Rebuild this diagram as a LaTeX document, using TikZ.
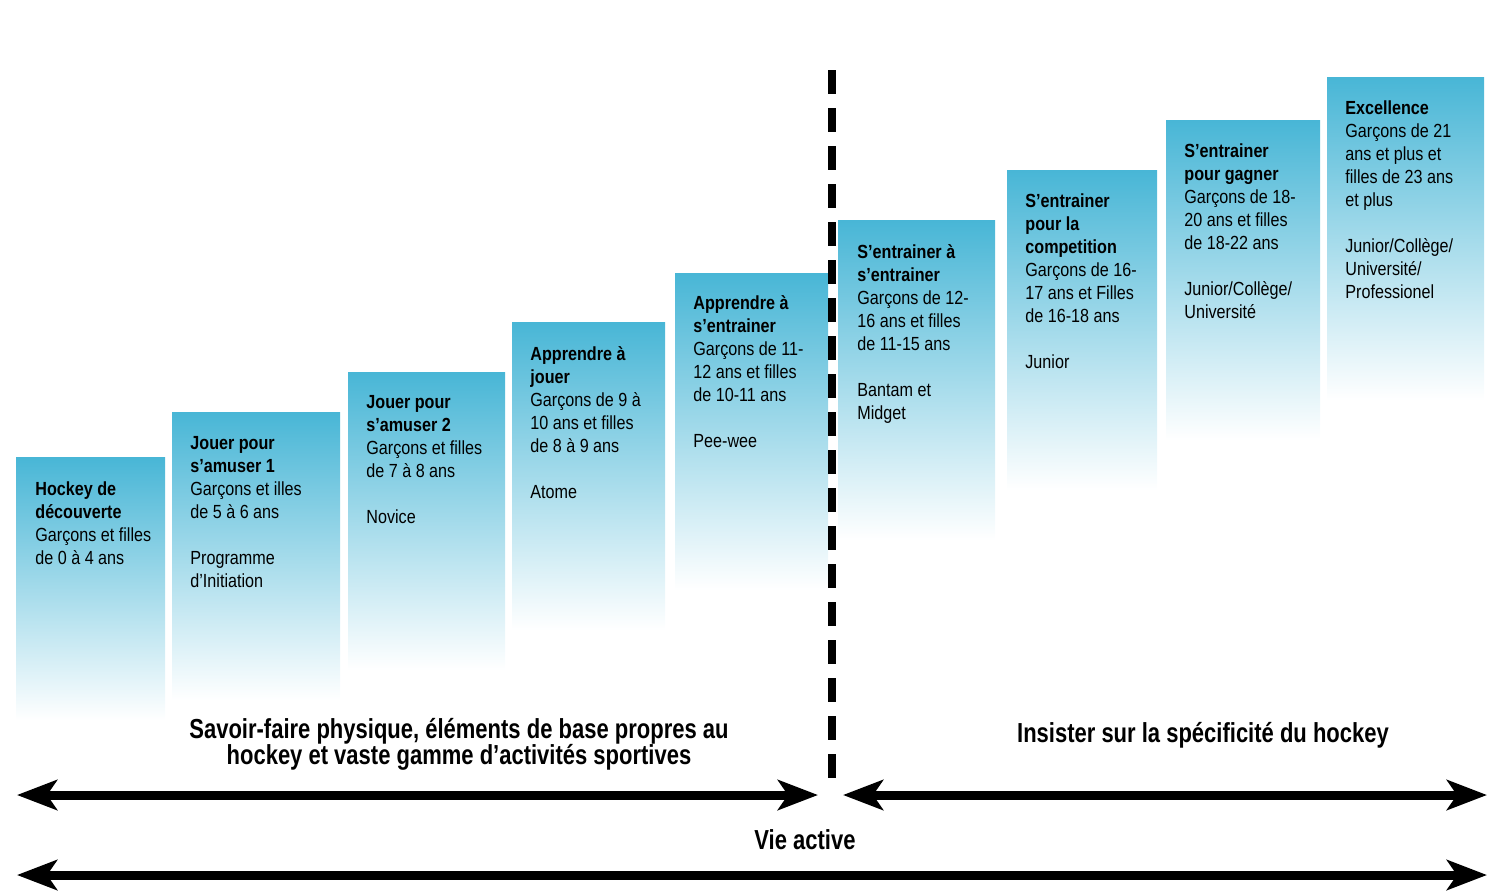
\documentclass[tikz,border=0pt]{standalone}
\usepackage{fontspec}
\setmainfont{Liberation Sans}[FakeStretch=0.85]
\newfontfamily\bandfont{Liberation Sans}[FakeStretch=0.8]
\usetikzlibrary{arrows.meta}
\usetikzlibrary{positioning}

\definecolor{hockeyblue}{RGB}{72,182,214}

\begin{document}
\begin{tikzpicture}[x=0.5pt,y=-0.5pt,
	stage/.style={top color=hockeyblue,middle color=hockeyblue!55,bottom color=white,draw=none},
	stage text/.style={anchor=north west,align=left,inner sep=0pt,
		font=\fontsize{9.5}{11.5}\selectfont},
	band text/.style={align=center,inner sep=0pt,
		font=\bandfont\bfseries\fontsize{13.75}{11}\selectfont},
	span/.style={line width=4.5pt,{Stealth[length=20pt,width=15pt,inset=5pt]}-{Stealth[length=20pt,width=15pt,inset=5pt]}}]
	
	\useasboundingbox (0,0) rectangle (1489,890);
	
	% the nine stages
	\shade[stage] (16,457) rectangle (165,720);
	\shade[stage] (172,412) rectangle (340,700);
	\shade[stage] (348,372) rectangle (505,670);
	\shade[stage] (512,322) rectangle (665,630);
	\shade[stage] (675,273) rectangle (828,590);
	\shade[stage] (838,220) rectangle (995,540);
	\shade[stage] (1007,170) rectangle (1157,490);
	\shade[stage] (1166,120) rectangle (1320,440);
	\shade[stage] (1327,77) rectangle (1484,400);
	
	\node[stage text] (s1) at (35,481) {\textbf{Hockey de}\\\textbf{découverte}\\Garçons et filles\\de 0 à 4 ans};
	\node[stage text] (s2) at (190,436) {\textbf{Jouer pour}\\\textbf{s’amuser 1}\\Garçons et illes\\de 5 à 6 ans\\[11.5pt]Programme\\d’Initiation};
	\node[stage text] (s3) at (366,395) {\textbf{Jouer pour}\\\textbf{s’amuser 2}\\Garçons et filles\\de 7 à 8 ans\\[11.5pt]Novice};
	\node[stage text] (s4) at (530,346) {\textbf{Apprendre à}\\\textbf{jouer}\\Garçons de 9 à\\10 ans et filles\\de 8 à 9 ans\\[11.5pt]Atome};
	\node[stage text] (s5) at (693,295) {\textbf{Apprendre à}\\\textbf{s’entrainer}\\Garçons de 11-\\12 ans et filles\\de 10-11 ans\\[11.5pt]Pee-wee};
	\node[stage text] (s6) at (857,244) {\textbf{S’entrainer à}\\\textbf{s’entrainer}\\Garçons de 12-\\16 ans et filles\\de 11-15 ans\\[11.5pt]Bantam et\\Midget};
	\node[stage text] (s7) at (1025,193) {\textbf{S’entrainer}\\\textbf{pour la}\\\textbf{competition}\\Garçons de 16-\\17 ans et Filles\\de 16-18 ans\\[11.5pt]Junior};
	\node[stage text] (s8) at (1184,143) {\textbf{S’entrainer}\\\textbf{pour gagner}\\Garçons de 18-\\20 ans et filles\\de 18-22 ans\\[11.5pt]Junior/Collège/\\Université};
	\node[stage text] (s9) at (1345,100) {\textbf{Excellence}\\Garçons de 21\\ans et plus et\\filles de 23 ans\\et plus\\[11.5pt]Junior/Collège/\\Université/\\Professionel};
	
	% divide
	\coordinate (top) at (832,70);
	\coordinate (bottom) at (832,785);
	\draw[line width=3.75pt,dash pattern=on 12pt off 7pt] (top) -- (bottom);
	
	\node[band text] (basics) at (459,744) {Savoir-faire physique, éléments de base propres au\\[-1pt]hockey et vaste gamme d’activités sportives};
	\node[band text] (specific) at (1203,735) {Insister sur la spécificité du hockey};
	\node[band text] (active) at (805,840) {Vie active};
	
	\coordinate (a1) at (17,795);
	\coordinate (a2) at (818,795);
	\coordinate (a3) at (843,795);
	\coordinate (a4) at (1487,795);
	\coordinate (a5) at (17,875);
	\coordinate (a6) at (1487,875);
	
	\draw[span] (a1) -- (a2);
	\draw[span] (a3) -- (a4);
	\draw[span] (a5) -- (a6);
\end{tikzpicture}
\end{document}
